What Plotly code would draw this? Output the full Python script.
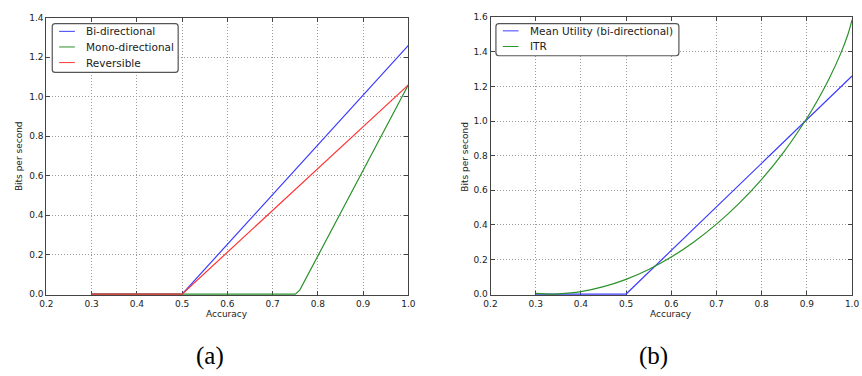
import plotly.graph_objects as go

# ---- data ----
acc_bi = [0.3, 0.5, 1.0]
bps_bi = [0.0, 0.0, 1.26]
acc_mono = [0.3, 0.5, 0.75, 0.76, 1.0]
bps_mono = [0.0, 0.0, 0.0, 0.02, 1.06]
acc_rev = [0.3, 0.5, 1.0]
bps_rev = [0.0, 0.0, 1.06]

acc_mu = [0.3, 0.5, 1.0]
bps_mu = [0.0, 0.0, 1.26]
acc_itr = [0.30, 0.333, 0.35, 0.40, 0.45, 0.50, 0.55, 0.60, 0.65, 0.70, 0.75,
           0.80, 0.85, 0.90, 0.925, 0.95, 0.975, 0.99, 1.0]
bps_itr = [0.004, 0.0, 0.001, 0.014, 0.043, 0.085, 0.142, 0.214, 0.301, 0.404,
           0.524, 0.663, 0.825, 1.016, 1.126, 1.249, 1.391, 1.494, 1.585]

x_ticks = [0.2, 0.3, 0.4, 0.5, 0.6, 0.7, 0.8, 0.9, 1.0]
y_ticks_a = [0.0, 0.2, 0.4, 0.6, 0.8, 1.0, 1.2, 1.4]
y_ticks_b = [0.0, 0.2, 0.4, 0.6, 0.8, 1.0, 1.2, 1.4, 1.6]

names_a = ["Bi-directional", "Mono-directional", "Reversible"]
names_b = ["Mean Utility (bi-directional)", "ITR"]

BLUE = "#3d3dff"
GREEN = "#2a922a"
RED = "#ff3535"
W, H = 862, 376
FONT = "DejaVu Sans"


def px(x):
    return x / W


def py(y):
    return 1 - y / H


fig = go.Figure()
series_a = [(acc_bi, bps_bi, BLUE), (acc_mono, bps_mono, GREEN), (acc_rev, bps_rev, RED)]
for (xs, ys, c), n in zip(series_a, names_a):
    fig.add_trace(go.Scatter(x=xs, y=ys, mode="lines", name=n, showlegend=False,
                             line=dict(color=c, width=1.2), xaxis="x", yaxis="y"))
series_b = [(acc_mu, bps_mu, BLUE, "linear"), (acc_itr, bps_itr, GREEN, "spline")]
for (xs, ys, c, sh), n in zip(series_b, names_b):
    fig.add_trace(go.Scatter(x=xs, y=ys, mode="lines", name=n, showlegend=False,
                             line=dict(color=c, width=1.2, shape=sh), xaxis="x2", yaxis="y2"))

axis_common = dict(
    showline=True, linecolor="#444", linewidth=1, mirror="ticks",
    ticks="inside", ticklen=4, tickcolor="#444", tickwidth=1,
    showgrid=True, gridcolor="#9a9a9a", gridwidth=1, griddash="1px,2px",
    zeroline=False, layer="below traces",
    tickfont=dict(family=FONT, size=9, color="#222"),
)

fig.update_layout(
    width=W, height=H,
    margin=dict(l=0, r=0, t=0, b=0),
    paper_bgcolor="white", plot_bgcolor="white",
    font=dict(family=FONT, color="black"),
    showlegend=False,
    xaxis=dict(domain=[px(40), px(408)], range=[0.2, 1.0], tickvals=x_ticks,
               ticktext=[f"{v:.1f}" for v in x_ticks], anchor="y", **axis_common),
    yaxis=dict(domain=[py(297), py(13)], range=[-0.004, 1.4], tickvals=y_ticks_a,
               ticktext=[f"{v:.1f}" for v in y_ticks_a], anchor="x", **axis_common),
    xaxis2=dict(domain=[px(491.5), px(859)], range=[0.2, 1.0], tickvals=x_ticks,
                ticktext=[f"{v:.1f}" for v in x_ticks], anchor="y2", **axis_common),
    yaxis2=dict(domain=[py(297), py(12.5)], range=[-0.005, 1.6], tickvals=y_ticks_b,
                ticktext=[f"{v:.1f}" for v in y_ticks_b], anchor="x2", **axis_common),
)


def rounded_box(x0, y0, x1, y1, r=3):
    # pixel coords -> paper path with rounded corners
    X = lambda v: f"{px(v):.6f}"
    Y = lambda v: f"{py(v):.6f}"
    return (f"M {X(x0 + r)},{Y(y0)} L {X(x1 - r)},{Y(y0)} Q {X(x1)},{Y(y0)} {X(x1)},{Y(y0 + r)} "
            f"L {X(x1)},{Y(y1 - r)} Q {X(x1)},{Y(y1)} {X(x1 - r)},{Y(y1)} "
            f"L {X(x0 + r)},{Y(y1)} Q {X(x0)},{Y(y1)} {X(x0)},{Y(y1 - r)} "
            f"L {X(x0)},{Y(y0 + r)} Q {X(x0)},{Y(y0)} {X(x0 + r)},{Y(y0)} Z")


shapes = []
annots = []


def add_legend(box, line_x, text_x, rows, names, colors):
    x0, y0, x1, y1 = box
    shapes.append(dict(type="path", xref="paper", yref="paper", path=rounded_box(x0, y0, x1, y1),
                       line=dict(color="#555", width=1.2), fillcolor="white", layer="above"))
    for yy, n, c in zip(rows, names, colors):
        shapes.append(dict(type="line", xref="paper", yref="paper", x0=px(line_x[0]), x1=px(line_x[1]),
                           y0=py(yy), y1=py(yy), line=dict(color=c, width=1), layer="above"))
        annots.append(dict(text=n, x=px(text_x), y=py(yy), xref="paper", yref="paper",
                           xanchor="left", yanchor="middle", showarrow=False,
                           font=dict(family=FONT, size=10.5, color="#222")))


add_legend((46, 19, 174, 69), (53, 69), 78, [27, 43, 59], names_a, [BLUE, GREEN, RED])
add_legend((497, 19, 683, 52), (504, 520), 530, [26.5, 42.5], names_b, [BLUE, GREEN])

label_font = dict(family=FONT, size=9, color="#222")
for x, y, t, ang in [(224, 317, "Accuracy", 0), (675, 317, "Accuracy", 0),
                     (12, 155, "Bits per second", -90), (466, 155, "Bits per second", -90)]:
    annots.append(dict(text=t, x=px(x), y=py(y), xref="paper", yref="paper", xanchor="center",
                       yanchor="middle", showarrow=False, textangle=ang, font=label_font))

for x, t in [(206, "(a)"), (657, "(b)")]:
    annots.append(dict(text=t, x=px(x), y=py(360), xref="paper", yref="paper", xanchor="center",
                       yanchor="middle", showarrow=False,
                       font=dict(family="Liberation Serif", size=25, color="black")))

fig.update_layout(shapes=shapes, annotations=annots)

fig.write_html("out.html")
